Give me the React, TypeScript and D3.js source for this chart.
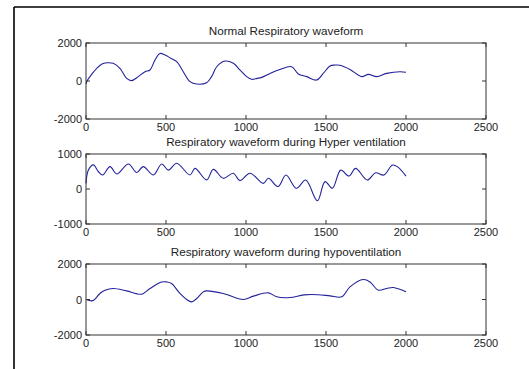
import React from "react";
import * as d3 from "d3";

const titles = [
  "Normal Respiratory waveform",
  "Respiratory waveform during Hyper ventilation",
  "Respiratory waveform during hypoventilation",
];

const xTicks = [0, 500, 1000, 1500, 2000, 2500];
const yTicks1 = [-2000, 0, 2000];
const yTicks2 = [-1000, 0, 1000];
const yTicks3 = [-2000, 0, 2000];

const normalX = [0, 10, 40, 67, 100, 130, 170, 212, 254, 285, 327, 369, 400, 431, 462, 494, 530, 567, 608, 650, 692, 754, 785, 817, 869, 921, 962, 1004, 1035, 1070, 1098, 1150, 1212, 1285, 1327, 1379, 1442, 1483, 1525, 1556, 1587, 1650, 1723, 1765, 1817, 1879, 1962, 2000];
const normalY = [-150, 50, 400, 670, 900, 960, 930, 670, 140, 20, 230, 490, 580, 1100, 1450, 1370, 1200, 1020, 490, -35, -160, -90, 230, 750, 1050, 930, 580, 230, 90, 140, 190, 400, 610, 750, 370, 230, 50, 400, 790, 840, 830, 610, 230, 350, 230, 400, 490, 460];

const hyperX = [0, 15, 46, 77, 104, 150, 192, 265, 317, 358, 421, 473, 515, 567, 650, 681, 754, 796, 858, 921, 962, 1025, 1108, 1140, 1200, 1250, 1315, 1373, 1446, 1494, 1540, 1592, 1644, 1685, 1758, 1810, 1862, 1915, 1946, 2000];
const hyperY = [160, 540, 690, 500, 400, 640, 430, 715, 470, 640, 400, 715, 540, 735, 400, 590, 260, 560, 305, 450, 240, 450, 160, 305, 70, 400, 20, 255, -335, 210, 20, 540, 370, 590, 255, 465, 400, 685, 640, 370];

const hypoX = [0, 35, 50, 87, 119, 171, 254, 348, 400, 473, 504, 535, 587, 629, 660, 692, 733, 754, 858, 983, 1046, 1140, 1192, 1275, 1362, 1450, 1525, 1598, 1650, 1733, 1775, 1827, 1879, 1921, 2000];
const hypoY = [0, -80, -30, 340, 525, 620, 485, 300, 620, 990, 990, 900, 340, 0, -135, 55, 430, 485, 340, 0, 190, 375, 150, 110, 260, 270, 205, 150, 710, 1125, 990, 525, 620, 675, 430];

const panels = [
  { title: titles[0], xs: normalX, ys: normalY, yTicks: yTicks1, top: 43, bottom: 119, titleY: 35 },
  { title: titles[1], xs: hyperX, ys: hyperY, yTicks: yTicks2, top: 154, bottom: 224, titleY: 146 },
  { title: titles[2], xs: hypoX, ys: hypoY, yTicks: yTicks3, top: 264, bottom: 335, titleY: 256 },
];

const LEFT = 86;
const RIGHT = 486;
const FONT = "'Liberation Sans', Arial, Helvetica, sans-serif";

export default function App() {
  const x = d3.scaleLinear().domain([0, 2500]).range([LEFT, RIGHT]);
  return (
    <svg width={529} height={369} style={{ position: "absolute", left: 0, top: 0, background: "#fff" }}>
      <rect x={0} y={0} width={529} height={369} fill="#fff" />
      <line x1={14} y1={7} x2={14} y2={369} stroke="#000" strokeWidth={1.6} />
      <line x1={14} y1={7} x2={529} y2={7} stroke="#000" strokeWidth={1.6} />
      {panels.map((p, i) => {
        const y = d3
          .scaleLinear()
          .domain([p.yTicks[0], p.yTicks[p.yTicks.length - 1]])
          .range([p.bottom, p.top]);
        const line = d3
          .line<number>()
          .x((_, k) => x(p.xs[k]))
          .y((v) => y(v))
          .curve(d3.curveCatmullRom.alpha(0.5));
        return (
          <g key={i}>
            <text x={(LEFT + RIGHT) / 2} y={p.titleY} textAnchor="middle" fontFamily={FONT} fontSize={11.7} fill="#222">
              {p.title}
            </text>
            <path d={line(p.ys) || ""} fill="none" stroke="#22229a" strokeWidth={1.1} />
            <rect x={LEFT} y={p.top} width={RIGHT - LEFT} height={p.bottom - p.top} fill="none" stroke="#333" strokeWidth={1} />
            {xTicks.map((t) => (
              <g key={"x" + t}>
                <line x1={x(t)} x2={x(t)} y1={p.bottom} y2={p.bottom - 4} stroke="#333" />
                <line x1={x(t)} x2={x(t)} y1={p.top} y2={p.top + 4} stroke="#333" />
                <text x={x(t)} y={p.bottom + 12} textAnchor="middle" fontFamily={FONT} fontSize={11} fill="#222">
                  {t}
                </text>
              </g>
            ))}
            {p.yTicks.map((t) => (
              <g key={"y" + t}>
                <line x1={LEFT} x2={LEFT + 4} y1={y(t)} y2={y(t)} stroke="#333" />
                <line x1={RIGHT} x2={RIGHT - 4} y1={y(t)} y2={y(t)} stroke="#333" />
                <text x={LEFT - 4} y={y(t) + 4} textAnchor="end" fontFamily={FONT} fontSize={11} fill="#222">
                  {t}
                </text>
              </g>
            ))}
          </g>
        );
      })}
    </svg>
  );
}
